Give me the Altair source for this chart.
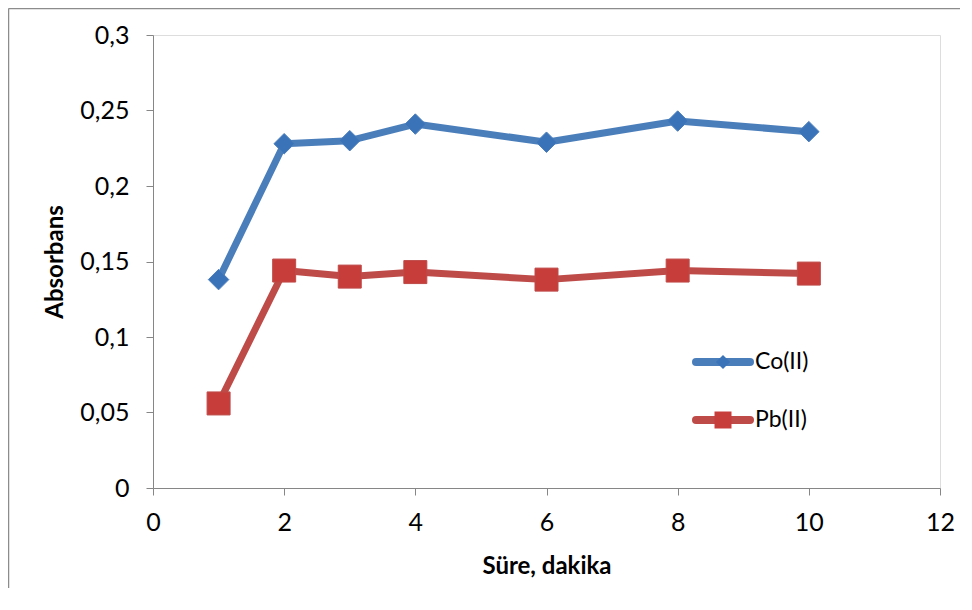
import altair as alt
import pandas as pd

series_names = ["Co(II)", "Pb(II)"]
minutes = [1, 2, 3, 4, 6, 8, 10]
co_values = [0.138, 0.228, 0.230, 0.241, 0.229, 0.243, 0.236]
pb_values = [0.056, 0.144, 0.140, 0.143, 0.138, 0.144, 0.142]
x_ticks = [0, 2, 4, 6, 8, 10, 12]
y_ticks = [0, 0.05, 0.1, 0.15, 0.2, 0.25, 0.3]

line_colors = ["#4A7EBB", "#BE4B48"]
marker_colors = ["#3B73B9", "#C63D3A"]

rows = []
for name, vals in zip(series_names, [co_values, pb_values]):
    for m, v in zip(minutes, vals):
        rows.append({"series": name, "t": m, "v": v})
df = pd.DataFrame(rows)

FONT = "Lato"
W, H = 787, 453

xenc = alt.X("t:Q", scale=alt.Scale(domain=[0, 12], nice=False),
             axis=alt.Axis(values=x_ticks, title="Süre, dakika", grid=False, format="d",
                           labelFontSize=25, titleFontSize=24, titleFontWeight="bold",
                           labelPadding=15, titlePadding=19, tickSize=7,
                           domainColor="#868686", tickColor="#868686",
                           labelColor="#000000", titleColor="#000000",
                           labelFont=FONT, titleFont=FONT, labelFlush=False))
yenc = alt.Y("v:Q", scale=alt.Scale(domain=[0, 0.3], nice=False),
             axis=alt.Axis(values=y_ticks, title="Absorbans", grid=False,
                           labelFontSize=25, titleFontSize=24, titleFontWeight="bold",
                           labelPadding=17, titlePadding=12, tickSize=7,
                           labelExpr="replace(toString(datum.value), '.', ',')",
                           domainColor="#868686", tickColor="#868686",
                           labelColor="#000000", titleColor="#000000",
                           labelFont=FONT, titleFont=FONT, labelFlush=False))

layers = []
for i, name in enumerate(series_names):
    sub = df[df.series == name]
    base = alt.Chart(sub)
    layers.append(base.mark_line(color=line_colors[i], strokeWidth=7, strokeJoin="round")
                  .encode(x=xenc, y=yenc))
    shape = "diamond" if i == 0 else "square"
    size = 420 if i == 0 else 529
    layers.append(base.mark_point(shape=shape, filled=True, opacity=1, size=size,
                                  color=marker_colors[i], stroke=line_colors[i], strokeWidth=1)
                  .encode(x="t:Q", y="v:Q"))

# legend (manual, inside plot)
legend_y = [327, 385]
legend_sizes = [200, 289]
for i, name in enumerate(series_names):
    ld = pd.DataFrame({"series": [name]})
    lb = alt.Chart(ld)
    layers.append(lb.mark_rule(color=line_colors[i], strokeWidth=8, strokeCap="round")
                  .encode(x=alt.value(543), x2=alt.value(597), y=alt.value(legend_y[i])))
    layers.append(lb.mark_point(shape="diamond" if i == 0 else "square", filled=True,
                                opacity=1, size=legend_sizes[i], color=marker_colors[i])
                  .encode(x=alt.value(570), y=alt.value(legend_y[i])))
    layers.append(lb.mark_text(align="left", baseline="middle", fontSize=23, font=FONT,
                               color="#000000", dx=0)
                  .encode(text="series:N", x=alt.value(602), y=alt.value(legend_y[i])))

# chart outer frame (left and top edges)
fd = pd.DataFrame({"k": [0]})
layers.append(alt.Chart(fd).mark_rule(color="#8C8C8C", strokeWidth=1.5, clip=False)
              .encode(x=alt.value(-144.5), x2=alt.value(830), y=alt.value(-26.5)))
layers.append(alt.Chart(fd).mark_rule(color="#8C8C8C", strokeWidth=1.5, clip=False)
              .encode(x=alt.value(-144.5), y=alt.value(-26.5), y2=alt.value(580)))

chart = alt.layer(*layers).properties(
    width=W, height=H,
    autosize=alt.AutoSizeParams(type="none"),
    padding={"left": 145, "top": 27, "right": 20, "bottom": 100},
).configure_view(stroke=None).configure(background="#FFFFFF")

chart.save("out.html", embed_options={"renderer": "svg", "actions": False})
